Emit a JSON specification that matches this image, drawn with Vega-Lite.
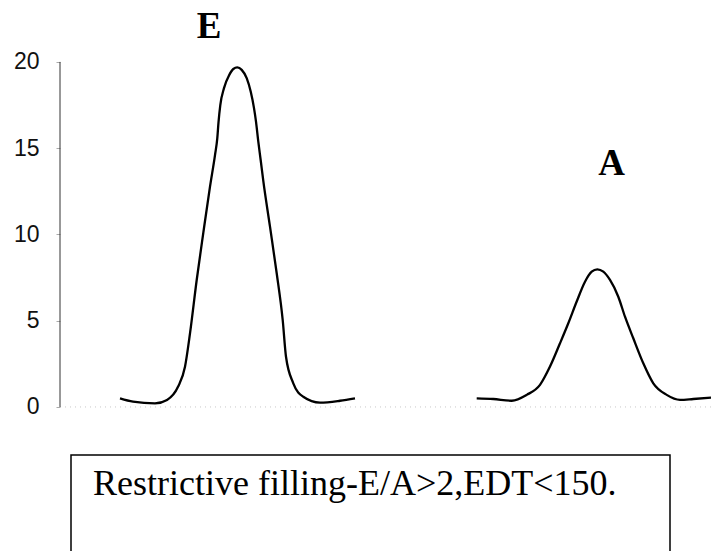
{
  "$schema": "https://vega.github.io/schema/vega-lite/v6.json",
  "width": 651,
  "height": 551,
  "autosize": "none",
  "padding": {"left": 60, "top": 0, "right": 0, "bottom": 0},
  "background": "white",
  "config": {"view": {"stroke": null}},
  "datasets": {
    "curve": [
      {"t": 60, "v": 0.50, "wave": "E"},
      {"t": 73, "v": 0.31, "wave": "E"},
      {"t": 95, "v": 0.21, "wave": "E"},
      {"t": 107, "v": 0.41, "wave": "E"},
      {"t": 118, "v": 1.17, "wave": "E"},
      {"t": 125, "v": 2.33, "wave": "E"},
      {"t": 130, "v": 4.26, "wave": "E"},
      {"t": 136.7, "v": 7.36, "wave": "E"},
      {"t": 143.3, "v": 10.09, "wave": "E"},
      {"t": 150, "v": 12.77, "wave": "E"},
      {"t": 155, "v": 14.6, "wave": "E"},
      {"t": 157.3, "v": 15.58, "wave": "E"},
      {"t": 158.5, "v": 16.5, "wave": "E"},
      {"t": 160.3, "v": 17.5, "wave": "E"},
      {"t": 164, "v": 18.48, "wave": "E"},
      {"t": 169.3, "v": 19.25, "wave": "E"},
      {"t": 173.3, "v": 19.59, "wave": "E"},
      {"t": 177.3, "v": 19.68, "wave": "E"},
      {"t": 181.7, "v": 19.54, "wave": "E"},
      {"t": 186.7, "v": 19.06, "wave": "E"},
      {"t": 190.7, "v": 18.28, "wave": "E"},
      {"t": 194, "v": 17.32, "wave": "E"},
      {"t": 196, "v": 16.54, "wave": "E"},
      {"t": 198.3, "v": 15.38, "wave": "E"},
      {"t": 200.7, "v": 14.3, "wave": "E"},
      {"t": 203.3, "v": 13.1, "wave": "E"},
      {"t": 210, "v": 10.45, "wave": "E"},
      {"t": 216.7, "v": 7.75, "wave": "E"},
      {"t": 222.7, "v": 5.04, "wave": "E"},
      {"t": 226, "v": 2.91, "wave": "E"},
      {"t": 233.3, "v": 1.37, "wave": "E"},
      {"t": 243.3, "v": 0.59, "wave": "E"},
      {"t": 260, "v": 0.25, "wave": "E"},
      {"t": 280, "v": 0.36, "wave": "E"},
      {"t": 295, "v": 0.50, "wave": "E"},
      {"t": 416.7, "v": 0.50, "wave": "A"},
      {"t": 433.3, "v": 0.46, "wave": "A"},
      {"t": 451.7, "v": 0.36, "wave": "A"},
      {"t": 466.7, "v": 0.70, "wave": "A"},
      {"t": 480, "v": 1.28, "wave": "A"},
      {"t": 490, "v": 2.34, "wave": "A"},
      {"t": 500, "v": 3.69, "wave": "A"},
      {"t": 508.3, "v": 4.85, "wave": "A"},
      {"t": 516.7, "v": 6.11, "wave": "A"},
      {"t": 525, "v": 7.26, "wave": "A"},
      {"t": 531.7, "v": 7.84, "wave": "A"},
      {"t": 537.3, "v": 7.98, "wave": "A"},
      {"t": 543.3, "v": 7.84, "wave": "A"},
      {"t": 550, "v": 7.36, "wave": "A"},
      {"t": 558.3, "v": 6.39, "wave": "A"},
      {"t": 565, "v": 5.23, "wave": "A"},
      {"t": 573.3, "v": 3.98, "wave": "A"},
      {"t": 583.3, "v": 2.53, "wave": "A"},
      {"t": 593.3, "v": 1.37, "wave": "A"},
      {"t": 606.7, "v": 0.70, "wave": "A"},
      {"t": 620, "v": 0.41, "wave": "A"},
      {"t": 633.3, "v": 0.46, "wave": "A"},
      {"t": 651, "v": 0.54, "wave": "A"}
    ],
    "peaks": [
      {"t": 149, "v": 21.39, "label": "E"},
      {"t": 551.5, "v": 13.45, "label": "A"}
    ],
    "axisline": [{"t": 0, "v": 0, "v2": 20}],
    "zeroline": [{"t": 0, "t2": 651, "v": 0}],
    "box": [{"t": 11, "t2": 610, "v": -2.78, "v2": -9.5}],
    "note": [{"t": 33, "v": -5.1, "label": "Restrictive filling-E/A>2,EDT<150."}]
  },
  "encoding": {
    "x": {"field": "t", "type": "quantitative", "scale": {"domain": [0, 651], "nice": false, "zero": false}, "axis": null},
    "y": {
      "field": "v", "type": "quantitative",
      "scale": {"domain": [-8.35, 23.59], "nice": false, "zero": false},
      "axis": {
        "values": [0, 5, 10, 15, 20],
        "title": null,
        "domain": false,
        "grid": false,
        "ticks": true,
        "tickSize": 4,
        "tickColor": "#aaaaaa",
        "labelPadding": 17,
        "labelFont": "Liberation Sans",
        "labelFontSize": 23,
        "labelColor": "#111111"
      }
    }
  },
  "layer": [
    {
      "data": {"name": "zeroline"},
      "mark": {"type": "rule", "color": "#c8c8c8", "strokeDash": [1, 4], "strokeWidth": 1},
      "encoding": {
        "x2": {"field": "t2"}
      }
    },
    {
      "data": {"name": "axisline"},
      "mark": {"type": "rule", "color": "#333333", "strokeWidth": 1},
      "encoding": {
        "y2": {"field": "v2"}
      }
    },
    {
      "data": {"name": "curve"},
      "mark": {"type": "line", "color": "black", "strokeWidth": 2.3, "interpolate": "monotone"},
      "encoding": {
        "detail": {"field": "wave", "type": "nominal"}
      }
    },
    {
      "data": {"name": "peaks"},
      "mark": {"type": "text", "font": "Liberation Serif", "fontWeight": "bold", "fontSize": 37, "align": "center", "baseline": "alphabetic", "color": "black"},
      "encoding": {
        "text": {"field": "label"}
      }
    },
    {
      "data": {"name": "box"},
      "mark": {"type": "rect", "fill": "white", "fillOpacity": 0, "stroke": "black", "strokeWidth": 1.5, "clip": true},
      "encoding": {
        "x2": {"field": "t2"},
        "y2": {"field": "v2"}
      }
    },
    {
      "data": {"name": "note"},
      "mark": {"type": "text", "font": "Liberation Serif", "fontSize": 36, "align": "left", "baseline": "alphabetic", "color": "black"},
      "encoding": {
        "text": {"field": "label"}
      }
    }
  ]
}
